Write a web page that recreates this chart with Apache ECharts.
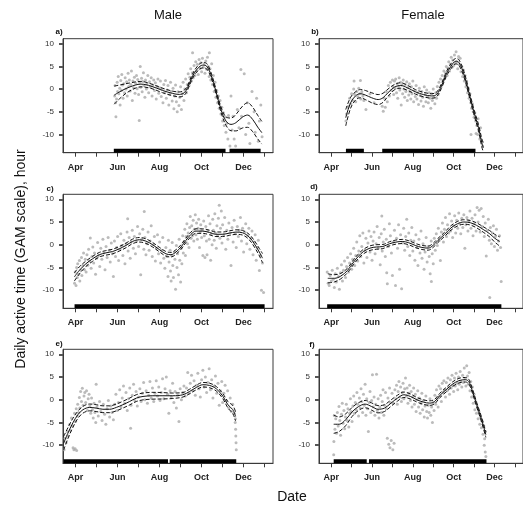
<!DOCTYPE html>
<html><head><meta charset="utf-8">
<script src="https://cdn.jsdelivr.net/npm/echarts@6/dist/echarts.min.js"></script>
<style>html,body{margin:0;padding:0;background:#fff}#c{width:523px;height:515px}</style>
</head><body><div id="c"></div>
<script>
// x unit: months after 1 April (0 = Apr, 1 = May, ...)
const monthNames = ['Apr','May','Jun','Jul','Aug','Sep','Oct','Nov','Dec','Jan'];
const tickMonths = [0,1,2,3,4,5,6,7,8,9];
const labelMonths = [0,2,4,6,8];
const yTicks = [-10,-5,0,5,10];
const colTitles = ['Male','Female'];
const panelLabels = ['a)','b)','c)','d)','e)','f)'];
const yTitle = 'Daily active time (GAM scale), hour';
const xTitle = 'Date';

// Panel a (Male)
const fitXA = [1.84,2.16,2.56,3.11,3.59,4.14,4.62,4.94,5.17,5.33,5.57,5.81,6.05,6.24,6.44,6.68,6.92,7.16,7.40,7.63,7.95,8.19,8.43,8.67,8.87];
const fitA  = [-1.32,-0.44,0.44,1.10,0.66,-0.29,-0.95,-1.17,-0.81,0.29,2.86,4.54,5.27,5.05,3.22,-0.44,-4.47,-7.03,-7.77,-7.40,-6.15,-5.71,-6.67,-8.35,-9.60];
const halfA = [2.0,1.4,0.9,0.6,0.5,0.5,0.5,0.55,0.55,0.5,0.5,0.55,0.6,0.6,0.55,0.5,0.6,0.9,1.4,1.8,2.4,2.7,2.7,2.6,2.5];
const barsA = [[1.82,7.14],[7.33,8.81]];
const ptsA = [[1.86,-1.5],[1.88,0.8],[1.9,-3.0],[1.92,-6.1],[1.95,-2.2],[1.98,1.5],[2.0,-0.5],[2.03,2.8],[2.06,-1.0],[2.1,0.2],[2.12,-3.5],[2.15,1.9],[2.18,-0.3],[2.2,3.2],[2.23,0.9],[2.26,-2.0],[2.3,1.2],[2.33,-0.8],[2.36,2.5],[2.4,0.0],[2.43,1.6],[2.46,-1.5],[2.5,3.5],[2.53,0.6],[2.56,2.0],[2.6,-0.4],[2.63,1.0],[2.66,4.0],[2.7,-2.5],[2.73,1.8],[2.76,0.3],[2.8,2.6],[2.83,-0.9],[2.86,1.3],[2.9,3.0],[2.93,0.1],[2.96,2.1],[3.0,-1.2],[3.03,-6.9],[3.05,1.5],[3.08,5.0],[3.1,0.4],[3.14,2.4],[3.17,-0.6],[3.2,1.7],[3.23,3.6],[3.26,0.8],[3.3,-1.8],[3.33,2.0],[3.37,0.0],[3.4,1.2],[3.44,3.0],[3.48,-0.8],[3.52,1.6],[3.56,0.5],[3.6,2.5],[3.64,-1.5],[3.68,0.9],[3.72,2.0],[3.76,-0.3],[3.8,1.4],[3.84,-2.2],[3.88,0.6],[3.92,2.2],[3.96,-0.9],[4.0,0.3],[4.04,1.8],[4.08,-1.6],[4.12,0.0],[4.16,-3.0],[4.2,1.0],[4.24,-0.8],[4.28,1.9],[4.32,-2.0],[4.36,-0.2],[4.4,0.8],[4.44,-3.5],[4.48,-1.2],[4.52,1.5],[4.56,-0.5],[4.6,-2.6],[4.64,0.2],[4.68,-4.3],[4.72,-1.5],[4.76,0.9],[4.8,-2.8],[4.84,-5.0],[4.88,-0.6],[4.92,-3.6],[4.96,-1.8],[5.0,0.5],[5.04,-4.5],[5.08,-1.0],[5.12,1.5],[5.16,-2.5],[5.2,0.0],[5.24,2.2],[5.28,-0.8],[5.32,1.0],[5.36,3.4],[5.4,0.8],[5.44,2.6],[5.48,4.5],[5.52,1.8],[5.56,3.6],[5.57,8.0],[5.6,2.5],[5.64,5.2],[5.68,3.0],[5.72,6.0],[5.76,4.0],[5.8,5.5],[5.84,3.2],[5.88,6.5],[5.92,4.6],[5.96,5.8],[6.0,3.8],[6.04,6.8],[6.08,4.8],[6.12,5.6],[6.16,3.5],[6.2,6.2],[6.24,4.4],[6.28,7.0],[6.32,5.0],[6.37,8.0],[6.36,2.8],[6.4,4.5],[6.44,2.0],[6.48,5.6],[6.52,1.0],[6.56,3.0],[6.6,-0.5],[6.64,1.5],[6.68,-1.8],[6.72,-0.3],[6.76,-3.0],[6.8,-1.5],[6.84,-4.2],[6.88,-2.5],[6.92,-5.5],[6.96,-4.0],[7.0,-7.0],[7.04,-5.2],[7.08,-8.0],[7.12,-6.2],[7.16,-9.5],[7.2,-7.5],[7.25,-11.0],[7.28,-5.8],[7.35,-12.5],[7.4,-1.5],[7.45,-9.0],[7.5,-6.0],[7.55,-11.0],[7.62,-12.5],[7.7,-4.5],[7.78,-8.5],[7.87,4.3],[7.9,-6.0],[8.03,3.4],[8.1,-10.0],[8.18,-3.0],[8.25,-7.5],[8.3,-12.0],[8.4,-0.5],[8.5,-5.0],[8.55,-9.5],[8.62,-2.0],[8.7,-11.5],[8.75,-7.0],[8.82,-3.5],[8.88,-10.5]];

// Panel b (Female)
const fitXB = [0.71,0.95,1.19,1.43,1.67,1.98,2.30,2.54,2.78,3.10,3.41,3.73,4.13,4.52,4.92,5.16,5.40,5.63,5.87,6.11,6.27,6.51,6.75,6.98,7.22,7.38,7.46];
const fitB  = [-6.3,-3.0,-1.5,-1.0,-1.3,-1.9,-2.3,-1.9,-0.8,0.44,0.8,0.3,-0.6,-1.2,-1.5,-1.2,0.66,3.2,5.05,6.15,5.8,3.2,-0.8,-4.8,-8.5,-11.8,-12.9];
const halfB = [1.8,1.2,0.9,0.9,1.0,1.1,1.1,1.0,0.8,0.6,0.6,0.55,0.5,0.5,0.5,0.5,0.5,0.5,0.55,0.6,0.6,0.6,0.6,0.6,0.7,0.9,1.0];
const barsB = [[0.72,1.60],[2.50,7.07]];
const ptsB = [[0.72,-7.0],[0.75,-5.5],[0.8,-4.0],[0.85,-3.8],[0.9,-2.0],[0.95,-3.2],[1.0,-1.0],[1.05,-2.5],[1.1,0.0],[1.12,1.8],[1.15,-1.2],[1.2,-2.8],[1.25,-0.5],[1.3,-1.6],[1.35,0.2],[1.4,-1.0],[1.43,1.9],[1.45,-2.2],[1.5,-0.6],[1.55,-1.5],[1.6,-2.5],[1.7,-4.5],[1.9,-1.0],[2.1,-3.0],[2.5,-3.8],[2.55,-4.9],[2.6,-2.0],[2.65,-4.0],[2.7,-0.5],[2.75,-2.8],[2.8,0.8],[2.85,-1.5],[2.9,1.5],[2.95,-0.3],[3.0,2.0],[3.03,0.5],[3.06,-1.2],[3.1,1.8],[3.13,0.2],[3.16,2.2],[3.2,-0.8],[3.23,1.2],[3.26,-2.0],[3.3,0.6],[3.33,2.5],[3.36,-0.2],[3.4,1.5],[3.43,-3.5],[3.46,0.9],[3.5,-1.0],[3.53,2.0],[3.56,0.0],[3.6,-1.8],[3.63,1.0],[3.66,-0.5],[3.7,1.6],[3.73,-2.5],[3.76,0.3],[3.8,-1.3],[3.83,1.2],[3.86,-0.6],[3.9,-2.2],[3.93,0.5],[3.96,-1.0],[4.0,1.8],[4.04,-2.8],[4.08,-0.4],[4.12,-1.6],[4.16,0.8],[4.2,-2.2],[4.24,-0.8],[4.28,-3.4],[4.32,0.2],[4.36,-1.4],[4.4,-2.6],[4.44,-0.5],[4.48,-1.8],[4.52,-3.8],[4.56,0.5],[4.6,-1.2],[4.64,-2.8],[4.68,-0.2],[4.72,-1.6],[4.76,-3.0],[4.8,-0.8],[4.84,-2.0],[4.88,-4.2],[4.92,-1.0],[4.96,-2.5],[5.0,0.0],[5.04,-1.8],[5.08,-3.2],[5.12,-0.8],[5.16,-2.0],[5.2,0.6],[5.24,-1.2],[5.28,1.5],[5.32,-0.2],[5.36,2.2],[5.4,0.8],[5.44,3.0],[5.48,1.8],[5.52,4.0],[5.56,2.4],[5.6,3.6],[5.64,5.0],[5.68,3.0],[5.72,4.6],[5.76,6.0],[5.8,4.0],[5.84,5.5],[5.88,7.0],[5.92,4.8],[5.96,6.4],[6.0,5.2],[6.04,7.5],[6.08,5.8],[6.12,8.2],[6.16,6.0],[6.2,4.5],[6.24,7.2],[6.28,5.4],[6.32,6.8],[6.36,3.8],[6.4,5.0],[6.44,2.8],[6.48,4.2],[6.52,1.8],[6.56,3.0],[6.6,0.5],[6.64,1.8],[6.68,-0.8],[6.72,0.2],[6.76,-2.0],[6.8,-1.0],[6.84,-3.0],[6.85,-10.0],[6.88,-4.2],[6.92,-3.2],[6.96,-5.0],[7.0,-6.2],[7.04,-5.2],[7.08,-7.0],[7.1,-9.8],[7.14,-8.0],[7.18,-10.0],[7.2,-6.5],[7.24,-9.2],[7.28,-11.0],[7.32,-8.5],[7.38,-11.5],[7.42,-12.5]];

// Panel c (Male)
const fitXC = [-0.06,0.17,0.49,0.81,1.13,1.44,1.76,2.08,2.40,2.71,3.03,3.35,3.67,3.98,4.30,4.54,4.78,5.02,5.25,5.49,5.73,6.05,6.37,6.68,7.00,7.32,7.63,7.95,8.27,8.51,8.75,8.90];
const fitC  = [-7.1,-5.7,-4.2,-3.1,-2.2,-1.8,-1.5,-0.9,-0.16,0.72,1.09,0.79,-0.01,-1.04,-2.0,-2.2,-1.6,-0.5,0.94,2.26,3.0,3.0,2.7,2.3,2.3,2.55,2.78,2.63,1.68,0.21,-1.63,-2.96];
const halfC = [0.9,0.8,0.6,0.55,0.5,0.5,0.5,0.5,0.5,0.5,0.5,0.5,0.5,0.5,0.5,0.5,0.5,0.5,0.5,0.5,0.5,0.5,0.5,0.5,0.5,0.5,0.5,0.5,0.6,0.7,0.8,1.0];
const barsC = [[-0.05,9.0]];
const ptsC = [[-0.05,-8.5],[-0.02,-6.0],[0.02,-9.0],[0.05,-5.0],[0.08,-7.2],[0.1,-4.2],[0.14,-6.5],[0.18,-3.5],[0.2,-8.0],[0.24,-5.6],[0.28,-2.8],[0.3,-6.8],[0.34,-4.6],[0.38,-1.8],[0.42,-5.5],[0.46,-3.2],[0.5,-6.0],[0.54,-2.2],[0.58,-4.5],[0.62,-1.0],[0.66,-3.6],[0.7,1.5],[0.74,-5.2],[0.78,-2.6],[0.82,-0.5],[0.86,-4.0],[0.9,-1.8],[0.95,-6.5],[1.0,-3.0],[1.05,0.5],[1.1,-2.4],[1.15,-4.8],[1.2,-0.8],[1.25,-3.2],[1.3,1.2],[1.35,-1.8],[1.4,-5.5],[1.45,-0.4],[1.5,-2.8],[1.55,1.6],[1.6,-1.2],[1.65,-3.8],[1.7,0.4],[1.75,-2.0],[1.8,-7.0],[1.85,0.8],[1.9,-2.6],[1.95,-0.6],[2.0,1.8],[2.05,-3.5],[2.1,-1.0],[2.15,2.4],[2.2,-0.2],[2.25,-2.4],[2.3,1.0],[2.35,-4.2],[2.4,0.2],[2.45,2.8],[2.48,5.7],[2.5,-1.4],[2.55,1.6],[2.6,-3.0],[2.65,0.6],[2.7,3.2],[2.75,-0.8],[2.8,1.8],[2.85,-2.0],[2.9,0.8],[2.95,4.0],[3.0,-0.4],[3.05,2.4],[3.1,-6.6],[3.15,1.2],[3.2,3.4],[3.25,-1.0],[3.27,7.3],[3.3,1.6],[3.35,-2.2],[3.4,0.2],[3.45,2.8],[3.5,-1.2],[3.55,0.8],[3.6,4.2],[3.65,-2.6],[3.7,0.0],[3.75,1.8],[3.8,-3.6],[3.85,-0.8],[3.9,2.2],[3.95,-2.0],[4.0,0.6],[4.05,-4.0],[4.1,-1.2],[4.15,1.6],[4.2,-3.0],[4.25,-5.2],[4.3,-0.6],[4.35,-2.6],[4.4,-7.0],[4.42,1.0],[4.45,-3.8],[4.5,-1.2],[4.52,-5.8],[4.55,-8.0],[4.58,-2.4],[4.6,0.5],[4.63,-4.6],[4.66,-7.2],[4.7,-1.6],[4.73,-3.2],[4.76,-9.8],[4.8,-0.2],[4.83,-5.0],[4.86,-2.0],[4.9,-6.6],[4.93,1.2],[4.96,-3.4],[5.0,-8.2],[5.03,-0.8],[5.06,-4.2],[5.1,2.0],[5.13,-1.8],[5.16,0.6],[5.2,3.4],[5.23,-2.4],[5.26,1.8],[5.3,4.6],[5.33,0.2],[5.36,2.6],[5.4,-0.6],[5.43,3.8],[5.46,6.2],[5.5,1.4],[5.53,4.2],[5.56,2.0],[5.6,5.4],[5.63,0.8],[5.66,3.4],[5.7,6.6],[5.73,2.2],[5.76,4.8],[5.8,1.2],[5.83,3.6],[5.86,5.6],[5.9,-0.6],[5.93,2.8],[5.96,4.4],[6.0,1.6],[6.03,3.2],[6.06,-2.4],[6.1,5.2],[6.13,2.0],[6.16,-2.8],[6.2,4.0],[6.23,0.8],[6.26,-2.2],[6.3,3.0],[6.33,6.4],[6.36,1.2],[6.4,4.6],[6.43,-3.4],[6.46,2.4],[6.5,0.0],[6.53,5.6],[6.56,3.2],[6.6,1.0],[6.63,6.8],[6.66,2.6],[6.7,-0.8],[6.73,4.2],[6.76,2.0],[6.8,5.8],[6.84,8.7],[6.87,1.4],[6.9,3.6],[6.94,7.4],[6.97,0.4],[7.0,4.4],[7.05,2.2],[7.1,6.0],[7.15,-1.0],[7.2,3.2],[7.25,1.2],[7.3,4.8],[7.35,2.6],[7.4,-4.6],[7.45,3.8],[7.5,0.6],[7.55,5.4],[7.6,2.4],[7.65,-0.6],[7.7,4.0],[7.75,1.8],[7.8,3.2],[7.85,6.0],[7.9,0.8],[7.95,3.6],[8.0,-1.6],[8.05,2.8],[8.1,4.6],[8.15,0.2],[8.2,2.0],[8.25,3.6],[8.3,-1.0],[8.35,1.4],[8.4,3.0],[8.45,-2.2],[8.5,0.6],[8.55,2.2],[8.6,-3.4],[8.65,-0.6],[8.7,1.0],[8.75,-5.7],[8.8,-2.4],[8.85,-10.0],[8.9,-4.0],[8.95,-10.5]];

// Panel d (Female)
const fitXD = [-0.17,0.15,0.47,0.79,1.10,1.34,1.58,1.90,2.21,2.53,2.85,3.17,3.48,3.80,4.12,4.44,4.75,4.99,5.23,5.55,5.87,6.18,6.50,6.82,7.13,7.45,7.77,8.01,8.25];
const fitD  = [-7.4,-7.4,-6.9,-5.7,-3.8,-2.5,-1.5,-0.75,-0.5,-0.4,0.2,0.57,0.72,0.43,-0.16,-0.6,-0.75,-0.16,0.94,2.26,3.7,4.6,5.0,4.84,4.25,3.36,2.4,1.45,0.72];
const halfD = [1.0,0.8,0.6,0.5,0.5,0.5,0.5,0.5,0.5,0.45,0.45,0.45,0.45,0.45,0.45,0.45,0.45,0.45,0.45,0.45,0.5,0.5,0.5,0.5,0.55,0.6,0.7,0.85,1.0];
const barsD = [[-0.2,8.34]];
const ptsD = [[-0.2,-6.0],[-0.15,-8.5],[-0.1,-9.0],[-0.05,-6.8],[0.0,-8.0],[0.05,-5.6],[0.1,-7.6],[0.15,-9.4],[0.2,-6.4],[0.25,-8.2],[0.3,-5.2],[0.35,-7.0],[0.4,-9.8],[0.45,-6.2],[0.5,-4.4],[0.55,-8.0],[0.6,-5.6],[0.65,-3.6],[0.7,-7.2],[0.75,-4.8],[0.8,-2.8],[0.85,-6.0],[0.9,-4.0],[0.95,-2.0],[1.0,-5.4],[1.05,-3.2],[1.1,-0.8],[1.15,-4.6],[1.2,-2.4],[1.25,0.6],[1.3,-3.6],[1.35,-1.4],[1.4,2.0],[1.45,-2.6],[1.5,-0.4],[1.55,2.6],[1.6,-4.0],[1.65,-1.2],[1.7,1.4],[1.75,-2.8],[1.8,0.4],[1.85,3.0],[1.9,-1.6],[1.95,1.8],[2.0,-3.4],[2.05,0.8],[2.1,2.8],[2.15,-2.0],[2.2,0.2],[2.25,4.0],[2.3,-0.8],[2.35,1.6],[2.4,-4.4],[2.45,2.4],[2.48,6.3],[2.5,-1.4],[2.55,0.6],[2.6,3.4],[2.65,-2.6],[2.7,1.2],[2.72,-6.2],[2.75,-8.6],[2.8,-0.4],[2.85,4.6],[2.9,2.0],[2.95,-1.8],[3.0,-6.8],[3.05,0.6],[3.1,3.2],[3.15,-9.0],[3.2,1.4],[3.25,-0.8],[3.3,4.4],[3.35,-5.4],[3.4,2.2],[3.45,-9.7],[3.5,0.4],[3.55,3.6],[3.6,-1.2],[3.65,1.8],[3.7,5.6],[3.75,-0.4],[3.8,2.6],[3.85,-2.4],[3.9,1.0],[3.95,3.8],[4.0,-1.4],[4.05,0.8],[4.1,-3.4],[4.15,2.2],[4.2,-0.6],[4.25,-4.6],[4.3,1.2],[4.35,-1.8],[4.4,3.0],[4.45,-3.0],[4.5,0.2],[4.55,-5.4],[4.6,-1.6],[4.65,1.6],[4.7,-3.8],[4.75,-0.4],[4.8,-2.6],[4.85,-6.4],[4.9,0.8],[4.91,-8.1],[4.95,-2.0],[5.0,-4.2],[5.05,1.4],[5.1,-1.2],[5.15,2.4],[5.2,-0.2],[5.25,3.6],[5.3,1.0],[5.35,-3.5],[5.4,2.8],[5.45,4.8],[5.5,0.6],[5.55,3.4],[5.6,6.0],[5.65,1.8],[5.7,4.4],[5.75,2.6],[5.8,6.8],[5.85,3.0],[5.9,5.2],[5.95,1.6],[6.0,4.2],[6.05,6.4],[6.1,2.6],[6.15,5.4],[6.2,3.6],[6.25,7.0],[6.3,4.6],[6.35,2.4],[6.4,5.8],[6.45,3.8],[6.5,6.6],[6.55,-0.8],[6.6,4.4],[6.65,6.0],[6.7,3.0],[6.75,5.2],[6.8,7.4],[6.85,3.6],[6.9,5.8],[6.95,2.0],[7.0,4.6],[7.05,6.6],[7.1,3.0],[7.15,8.2],[7.2,5.0],[7.25,7.6],[7.3,2.8],[7.35,8.0],[7.4,4.0],[7.45,6.2],[7.5,1.8],[7.55,4.8],[7.6,-2.5],[7.65,3.2],[7.7,5.6],[7.75,1.0],[7.77,-11.6],[7.8,3.8],[7.85,0.2],[7.9,2.6],[7.95,4.2],[8.0,-0.4],[8.05,1.8],[8.1,3.4],[8.15,-1.2],[8.2,0.8],[8.25,2.0],[8.3,-0.6],[8.33,-8.1]];

// Panel e (Male)
const fitXE = [-0.57,-0.37,-0.13,0.11,0.35,0.67,0.98,1.30,1.62,1.94,2.25,2.57,2.89,3.21,3.68,4.16,4.63,5.11,5.43,5.75,6.06,6.38,6.70,7.02,7.25,7.49,7.62];
const fitE  = [-9.6,-7.4,-5.1,-3.3,-2.2,-1.7,-1.85,-2.1,-2.1,-1.7,-1.1,-0.4,0.35,0.72,0.87,0.87,0.87,1.09,1.82,2.7,3.3,3.14,2.41,0.72,-1.1,-2.2,-3.7];
const halfE = [1.5,1.2,1.0,0.8,0.75,0.75,0.75,0.75,0.75,0.75,0.75,0.75,0.75,0.75,0.75,0.7,0.6,0.5,0.5,0.5,0.5,0.5,0.5,0.55,0.7,0.9,1.0];
const barsE = [[-0.57,4.40],[4.48,7.65]];
const ptsE = [[-0.55,-11.0],[-0.5,-8.5],[-0.45,-9.5],[-0.4,-7.0],[-0.35,-8.0],[-0.3,-5.5],[-0.25,-6.8],[-0.2,-4.0],[-0.15,-5.8],[-0.12,-10.6],[-0.08,-11.0],[-0.05,-3.0],[-0.02,-10.8],[0.0,-4.8],[0.03,-2.0],[0.05,-11.2],[0.08,-3.6],[0.1,-1.0],[0.14,-2.8],[0.18,0.5],[0.2,-1.8],[0.24,1.8],[0.28,-0.4],[0.32,2.5],[0.36,-1.2],[0.4,0.8],[0.44,1.6],[0.48,-0.6],[0.52,2.0],[0.56,-2.4],[0.6,0.2],[0.64,1.2],[0.68,-1.4],[0.72,-3.0],[0.76,0.4],[0.8,-2.2],[0.84,-4.0],[0.88,-0.8],[0.92,-2.8],[0.96,-5.0],[0.98,3.4],[1.02,-1.6],[1.08,-3.6],[1.14,-0.4],[1.2,-2.6],[1.26,-4.6],[1.32,-1.0],[1.38,-3.2],[1.44,-5.4],[1.5,-2.0],[1.56,-0.2],[1.62,-3.8],[1.68,-1.4],[1.74,-2.8],[1.8,-4.4],[1.86,-1.0],[1.92,1.2],[1.98,-2.4],[2.04,-0.6],[2.1,2.2],[2.16,-1.6],[2.22,0.4],[2.28,3.0],[2.34,-0.8],[2.4,1.6],[2.46,-2.4],[2.52,0.2],[2.58,2.6],[2.62,-6.3],[2.64,-1.2],[2.7,1.0],[2.76,3.4],[2.82,-0.2],[2.88,1.8],[2.94,-1.4],[3.0,0.6],[3.06,2.4],[3.12,-0.4],[3.18,1.4],[3.24,3.8],[3.3,0.0],[3.36,2.0],[3.42,-0.8],[3.48,1.0],[3.54,4.0],[3.6,0.4],[3.66,2.6],[3.72,-0.4],[3.78,1.4],[3.84,4.2],[3.9,0.8],[3.96,2.8],[4.02,-0.2],[4.08,1.6],[4.14,4.6],[4.2,0.2],[4.26,2.4],[4.32,5.0],[4.38,1.2],[4.44,-3.0],[4.5,2.0],[4.56,0.6],[4.62,3.6],[4.68,-0.6],[4.74,1.8],[4.8,-1.8],[4.86,1.0],[4.92,-4.8],[4.98,2.4],[5.04,0.0],[5.1,1.6],[5.16,3.0],[5.22,0.8],[5.28,2.6],[5.34,6.0],[5.4,1.4],[5.46,3.6],[5.52,5.4],[5.58,2.0],[5.64,4.2],[5.7,1.0],[5.76,3.2],[5.82,5.8],[5.88,2.4],[5.94,0.6],[6.0,4.4],[6.06,6.5],[6.12,2.8],[6.18,5.0],[6.24,1.6],[6.3,3.8],[6.36,6.8],[6.42,2.2],[6.48,4.4],[6.54,0.4],[6.6,3.0],[6.66,5.2],[6.72,1.4],[6.78,3.6],[6.84,-1.2],[6.9,2.0],[6.96,4.0],[7.0,-0.6],[7.06,1.4],[7.12,3.2],[7.18,-0.2],[7.24,2.0],[7.3,-1.8],[7.36,0.4],[7.42,-2.6],[7.48,-1.0],[7.55,-3.0],[7.6,-5.0],[7.61,-4.2],[7.62,-6.5],[7.63,-8.0],[7.64,-9.5],[7.65,-11.0]];

// Panel f (Female)
const fitXF = [0.12,0.39,0.71,1.02,1.34,1.66,1.98,2.29,2.61,2.93,3.25,3.56,3.88,4.20,4.52,4.83,5.07,5.31,5.63,5.94,6.26,6.58,6.74,6.90,7.13,7.37,7.58];
const fitF  = [-5.4,-5.4,-4.4,-2.7,-1.5,-0.97,-1.5,-2.1,-1.85,-0.75,0.35,1.09,0.72,-0.01,-0.53,-0.75,-0.4,0.87,2.2,3.4,4.2,4.4,4.0,2.2,-1.1,-4.4,-7.7];
const halfF = [2.0,1.6,1.3,1.0,0.85,0.8,0.8,0.8,0.75,0.7,0.65,0.6,0.55,0.5,0.5,0.5,0.5,0.5,0.5,0.5,0.5,0.5,0.5,0.5,0.5,0.55,0.6];
const barsF = [[0.12,1.74],[1.85,7.61]];
const ptsF = [[0.12,-12.1],[0.13,-9.2],[0.15,-3.5],[0.18,-6.5],[0.22,-4.2],[0.26,-7.4],[0.3,-2.8],[0.34,-5.8],[0.38,-1.5],[0.42,-4.6],[0.46,-7.8],[0.5,-3.2],[0.54,-0.8],[0.58,-5.2],[0.62,-2.4],[0.66,-6.4],[0.7,-3.8],[0.74,-1.0],[0.78,-4.6],[0.82,-2.0],[0.86,-6.0],[0.9,-3.0],[0.94,0.2],[0.98,-2.6],[1.02,-4.8],[1.06,-1.4],[1.1,0.8],[1.14,-3.0],[1.18,-0.6],[1.22,-2.2],[1.26,1.6],[1.3,-1.0],[1.34,-3.6],[1.38,0.4],[1.42,-1.8],[1.46,2.4],[1.5,-0.4],[1.54,-2.8],[1.58,1.2],[1.62,-1.2],[1.66,3.4],[1.7,-3.4],[1.74,0.2],[1.78,-2.0],[1.82,-7.0],[1.86,-0.6],[1.9,1.8],[1.94,-2.8],[1.98,-0.2],[2.02,5.5],[2.06,-1.6],[2.1,0.6],[2.14,-3.4],[2.18,-1.0],[2.22,5.6],[2.26,-2.4],[2.3,0.2],[2.34,-4.0],[2.38,-1.6],[2.42,1.0],[2.46,-2.8],[2.5,-0.4],[2.54,2.2],[2.58,-3.4],[2.62,-1.2],[2.66,1.6],[2.7,-2.0],[2.75,-8.5],[2.78,0.4],[2.82,-9.8],[2.86,2.6],[2.88,-10.6],[2.9,-0.6],[2.94,-9.0],[2.98,1.4],[3.02,-11.0],[3.04,-0.8],[3.08,-9.6],[3.12,2.2],[3.16,0.2],[3.2,3.2],[3.24,-1.0],[3.28,1.8],[3.32,4.0],[3.36,0.6],[3.4,2.8],[3.44,-0.4],[3.48,1.6],[3.52,3.6],[3.56,0.2],[3.6,2.4],[3.64,4.8],[3.68,0.8],[3.72,2.6],[3.76,-0.8],[3.8,1.4],[3.84,3.2],[3.88,-0.2],[3.92,1.8],[3.96,-1.6],[4.0,0.6],[4.04,2.6],[4.08,-1.0],[4.12,1.2],[4.16,-2.6],[4.2,0.0],[4.24,2.0],[4.28,-1.6],[4.32,0.4],[4.36,-3.0],[4.4,-0.8],[4.44,1.4],[4.48,-2.2],[4.52,-0.2],[4.56,-3.8],[4.6,-1.4],[4.64,0.8],[4.68,-2.6],[4.72,-4.0],[4.76,-1.2],[4.8,-2.8],[4.84,0.2],[4.88,-3.4],[4.92,-1.6],[4.96,-5.0],[5.0,-0.6],[5.04,-2.4],[5.08,1.0],[5.12,-1.0],[5.16,2.2],[5.2,0.2],[5.24,-1.6],[5.28,3.0],[5.32,0.8],[5.36,2.4],[5.4,-0.4],[5.44,3.6],[5.48,1.6],[5.52,4.2],[5.56,2.2],[5.6,0.6],[5.64,3.8],[5.68,2.0],[5.72,4.8],[5.76,2.8],[5.8,1.2],[5.84,4.4],[5.88,2.6],[5.92,5.4],[5.96,3.2],[6.0,1.8],[6.04,4.8],[6.08,3.0],[6.12,5.8],[6.16,3.6],[6.2,2.2],[6.24,5.0],[6.28,3.4],[6.32,6.2],[6.36,4.0],[6.4,2.8],[6.44,5.4],[6.48,3.8],[6.52,7.0],[6.56,4.6],[6.6,3.0],[6.64,7.5],[6.68,5.2],[6.72,3.4],[6.76,6.0],[6.8,2.0],[6.84,4.0],[6.88,0.6],[6.92,2.8],[6.96,-0.8],[7.0,1.2],[7.04,-2.2],[7.08,-0.4],[7.12,-3.0],[7.16,-1.6],[7.2,-4.2],[7.24,-2.6],[7.28,-5.4],[7.32,-3.8],[7.36,-6.2],[7.4,-4.8],[7.44,-7.6],[7.48,-5.8],[7.5,-10.0],[7.52,-8.6],[7.55,-11.5],[7.56,-7.0],[7.58,-12.5]];

const panels = [
  {fx: fitXA, f: fitA, h: halfA, bars: barsA, pts: ptsA},
  {fx: fitXB, f: fitB, h: halfB, bars: barsB, pts: ptsB},
  {fx: fitXC, f: fitC, h: halfC, bars: barsC, pts: ptsC},
  {fx: fitXD, f: fitD, h: halfD, bars: barsD, pts: ptsD},
  {fx: fitXE, f: fitE, h: halfE, bars: barsE, pts: ptsE},
  {fx: fitXF, f: fitF, h: halfF, bars: barsF, pts: ptsF}
];

const chart = echarts.init(document.getElementById('c'), null, {renderer: 'canvas'});
const lefts = [63, 319];
const tops = [38.7, 194.3, 349.3];
const W = 210, H = 114;
const grids = [], xAxes = [], yAxes = [], series = [];
const FONT = 'Liberation Sans, Arial, sans-serif';

panels.forEach((p, i) => {
  const col = i % 2, row = Math.floor(i / 2);
  grids.push({left: lefts[col], top: tops[row], width: W, height: H, show: true,
    borderColor: '#3a3a3a', borderWidth: 1, backgroundColor: 'transparent'});
  xAxes.push({type: 'value', gridIndex: i, min: -0.6, max: 9.4,
    splitLine: {show: false},
    axisLine: {show: true, onZero: false, lineStyle: {color: '#3a3a3a', width: 1}},
    axisTick: {show: true, length: 4, customValues: tickMonths, lineStyle: {color: '#3a3a3a', width: 1}},
    axisLabel: {show: true, customValues: labelMonths, margin: 10,
      formatter: v => monthNames[Math.round(v)], fontFamily: FONT, fontSize: 9, fontWeight: 'bold', color: '#222'}
  });
  yAxes.push({type: 'value', gridIndex: i, min: -14, max: 11.1,
    splitLine: {show: false},
    axisLine: {show: true, onZero: false, lineStyle: {color: '#3a3a3a', width: 1}},
    axisTick: {show: true, length: 4, customValues: yTicks, lineStyle: {color: '#555', width: 2}},
    axisLabel: {show: true, customValues: yTicks, margin: 9, fontFamily: FONT, fontSize: 8, color: '#333'}
  });
  series.push({type: 'scatter', xAxisIndex: i, yAxisIndex: i, data: p.pts,
    symbol: 'circle', symbolSize: 3, silent: true,
    itemStyle: {color: '#aaaaaa'}, z: 1});
  const fitData = p.fx.map((x, k) => [x, p.f[k]]);
  const upData = p.fx.map((x, k) => [x, p.f[k] + p.h[k]]);
  const loData = p.fx.map((x, k) => [x, p.f[k] - p.h[k]]);
  series.push({type: 'line', xAxisIndex: i, yAxisIndex: i, data: fitData, smooth: 0.35,
    showSymbol: false, lineStyle: {color: '#111', width: 1}, z: 3, silent: true});
  [upData, loData].forEach(d => series.push({type: 'line', xAxisIndex: i, yAxisIndex: i, data: d, smooth: 0.35,
    showSymbol: false, lineStyle: {color: '#111', width: 1, type: [4, 2]}, z: 3, silent: true}));
  p.bars.forEach(b => series.push({type: 'line', xAxisIndex: i, yAxisIndex: i,
    data: [[b[0], -13.55], [b[1], -13.55]], showSymbol: false, clip: false,
    lineStyle: {color: '#000', width: 4, cap: 'butt'}, z: 4, silent: true}));
});

const labelPos = [[59,31.5],[315,31.5],[50,188.5],[314,187],[59,343.5],[312,345]];
const graphic = [];
panelLabels.forEach((t, i) => graphic.push({type: 'text', x: labelPos[i][0], y: labelPos[i][1],
  style: {text: t, font: 'bold 8px ' + FONT, fill: '#111', textAlign: 'center', textVerticalAlign: 'middle'}}));
graphic.push({type: 'text', x: 168, y: 15, style: {text: colTitles[0], font: '13px ' + FONT, fill: '#111', textAlign: 'center', textVerticalAlign: 'middle'}});
graphic.push({type: 'text', x: 423, y: 15, style: {text: colTitles[1], font: '13px ' + FONT, fill: '#111', textAlign: 'center', textVerticalAlign: 'middle'}});
graphic.push({type: 'text', x: 21, y: 259, rotation: Math.PI / 2, style: {text: yTitle, font: '14px ' + FONT, fill: '#111', textAlign: 'center', textVerticalAlign: 'middle'}});
graphic.push({type: 'text', x: 292, y: 497, style: {text: xTitle, font: '14px ' + FONT, fill: '#111', textAlign: 'center', textVerticalAlign: 'middle'}});

chart.setOption({animation: false, backgroundColor: '#fff', grid: grids, xAxis: xAxes, yAxis: yAxes, series: series, graphic: graphic});
</script></body></html>
